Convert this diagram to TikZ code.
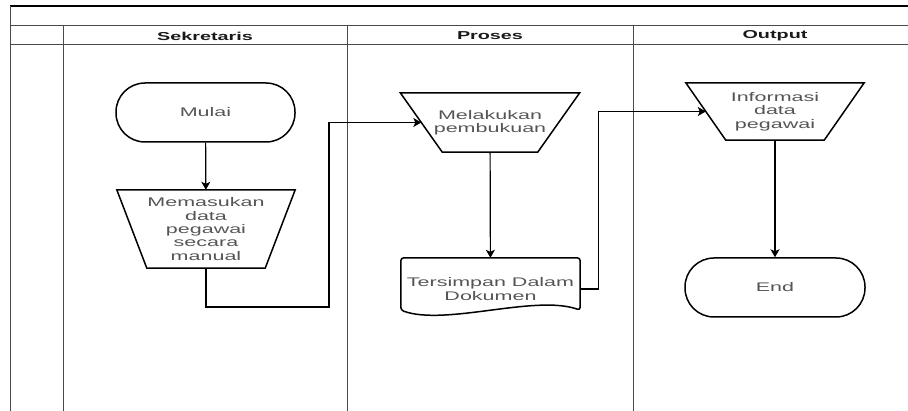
\documentclass[tikz,border=0pt]{standalone}
\usepackage{fontspec}
\setmainfont{Liberation Sans}[FakeStretch=1.72]
\usetikzlibrary{calc, positioning, arrows.meta}
\definecolor{lanegray}{HTML}{4A4A4A}
\definecolor{textgray}{HTML}{555555}
\tikzset{
	x = 1pt,
	y = -1pt,
	line width = 1.2pt,
	font = \fontsize{12.5}{13.4}\selectfont,
	>={Stealth[length=8pt, width=9pt, inset=2pt]},
	lane/.style={
		line width=1pt,
		draw=lanegray
	},
	heading/.style={
		font=\fontsize{11.5}{13}\selectfont\bfseries,
		text=black!90
	},
	terminal/.style={
		draw,
		rectangle,
		rounded corners=29pt,
		line width=1.5pt,
		text=textgray,
		minimum height=59pt,
		inner sep=0pt
	},
	manual/.style={
		rectangle,
		text=textgray,
		align=center,
		inner sep=0pt
	},
	outline/.style={
		line width=1.5pt
	},
	document/.style={
		text=textgray,
		align=center,
		inner sep=0pt,
		minimum width=179pt,
		minimum height=62pt
	},
	flow/.style={
		->,
		line width=1.2pt
	}
}

\begin{document}
\begin{tikzpicture}
\useasboundingbox (0,0) rectangle (908,411);
% swimlanes
\draw[line width=1.6pt] (10,6) -- (908,6);
\draw[lane] (10,26) -- (908,26);
\draw[lane] (10,45) -- (908,45);
\draw[lane] (10,6) -- (10,411);
\foreach \x in {63,347,633}
	\draw[lane] (\x,26) -- (\x,411);

\node[heading] (sekretaris) at (205,36) {Sekretaris};
\node[heading] (proses) at (490,36) {Proses};
\node[heading] (output) at (775,36) {Output};

\node[terminal, minimum width=179pt] (mulai) at (205.5,112.5) {Mulai};
\node[manual, minimum width=178pt, minimum height=78pt] (masuk) at (206,229)
	{Memasukan\\data\\pegawai\\secara\\manual};
\node[manual, minimum width=179pt, minimum height=59pt] (lakukan) at (490,122.5)
	{Melakukan\\pembukuan};
\node[document] (simpan) at (490.5,289) {Tersimpan Dalam\\Dokumen};
\node[manual, minimum width=178pt, minimum height=57pt] (info) at (775,111.5)
	{Informasi\\data\\pegawai};
\node[terminal, minimum width=180pt] (end) at (775,287.5) {End};

% manual operation outlines
\foreach \n/\d in {masuk/30, lakukan/42, info/40}
	\draw[outline] (\n.north west) -- (\n.north east)
		-- ([xshift=-\d pt]\n.south east) -- ([xshift=\d pt]\n.south west) -- cycle;

% document outline
\draw[outline, rounded corners=3pt]
	([yshift=10pt]simpan.south west) -- (simpan.north west) -- (simpan.north east)
	-- ([yshift=10pt]simpan.south east)
	.. controls ($(simpan.south east)+(-45,-26)$) and ($(simpan.south west)+(45,6)$)
	.. ([yshift=10pt]simpan.south west) -- cycle;

\coordinate (bend) at (329,307);
\draw[flow] (mulai) to (masuk);
\draw[flow] (masuk.south) |- (bend) |- ([xshift=21pt]lakukan.west);
\draw[flow] (lakukan) to (simpan);
\draw[flow] (simpan.east) -- ++(18,0) |- ([xshift=20pt]info.west);
\draw[flow] (info) to (end);
\end{tikzpicture}
\end{document}
